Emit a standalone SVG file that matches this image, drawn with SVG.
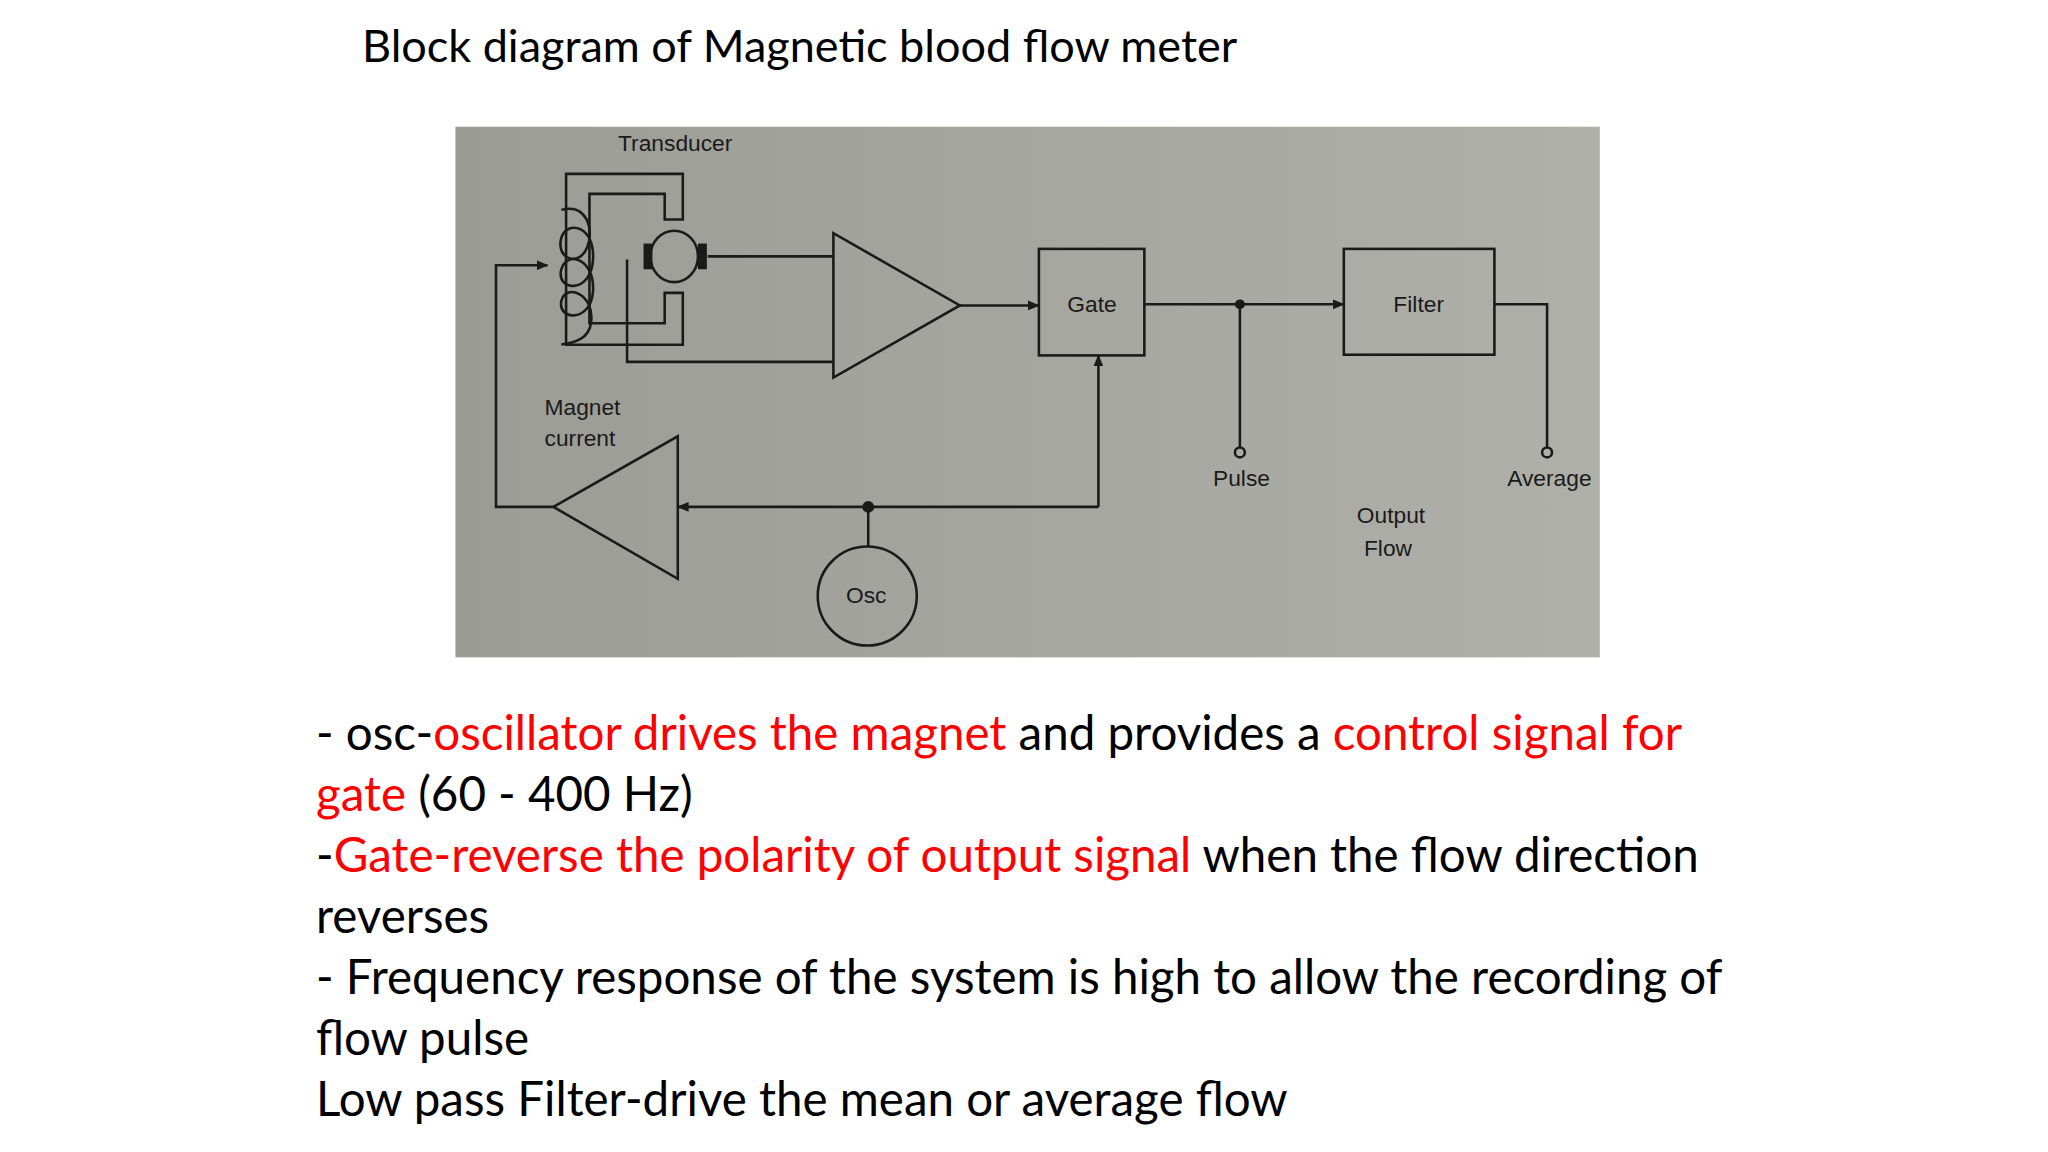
<svg xmlns="http://www.w3.org/2000/svg" width="2048" height="1152" viewBox="0 0 2048 1152">
<style>
.ln{stroke:#1a1a1a;stroke-width:2.6;fill:none}
.lb{font-family:"Liberation Sans",Arial,sans-serif;font-size:23px;fill:#1a1a1a}
.body{font-family:Lato,"Liberation Sans",sans-serif;font-size:47.5px;fill:#000}
.r{fill:#ff0000}
</style>
<defs>
<marker id="ah" markerWidth="12" markerHeight="10" refX="11" refY="5" orient="auto" markerUnits="userSpaceOnUse"><path d="M0,0 L12,5 L0,10 Z" fill="#1a1a1a"/></marker>
<linearGradient id="bg" x1="0" x2="1"><stop offset="0" stop-color="#9c9c96"/><stop offset="1" stop-color="#b0b0aa"/></linearGradient>
</defs>
<rect width="2048" height="1152" fill="#fff"/>
<text x="362" y="62" font-family="Lato,'Liberation Sans',sans-serif" font-size="45" fill="#000">Block diagram of Magnetic blood flow meter</text>
<g transform="translate(1,0) scale(0.99)">
<rect x="459" y="128" width="1156" height="536" fill="url(#bg)"/>
<g id="transducer">
<path class="ln" d="M688.7,221.8 V175.6 H570.8 V348.2 H688.7 V295.8 H670.4 V326.5 H594.4 V195.8 H670.4 V221.8 Z"/>
<path class="ln" d="M566,212 C590,205 600,230 592,250 C584,270 560,262 566,240 C572,222 600,228 598,262 C596,298 560,294 566,272 C572,252 600,262 598,294 C596,326 562,324 566,304 C570,286 600,296 596,326 C594,342 580,346 566,348"/>
<ellipse class="ln" cx="680" cy="259" rx="24" ry="26"/>
<rect x="649" y="246" width="9" height="26" fill="#1a1a1a"/>
<rect x="704" y="246" width="9" height="26" fill="#1a1a1a"/>
<text class="lb" x="681" y="153" text-anchor="middle">Transducer</text>
</g>
<g id="amp"><path class="ln" d="M840.8,235.5 L840.8,381.4 L968.5,308.5 Z"/></g>
<g id="gate"><rect class="ln" x="1048.4" y="251.4" width="106.5" height="107.6"/><text class="lb" x="1102" y="315" text-anchor="middle">Gate</text></g>
<g id="filter"><rect class="ln" x="1356.4" y="251.4" width="152.1" height="106.9"/><text class="lb" x="1432" y="315" text-anchor="middle">Filter</text></g>
<g id="osc"><circle class="ln" cx="875" cy="602" r="50"/><text class="lb" x="874" y="609" text-anchor="middle">Osc</text></g>
<g id="amp2"><path class="ln" d="M558,512 L683.6,440.7 L683.6,584.6 Z"/>
<text class="lb" x="549" y="419">Magnet</text><text class="lb" x="549" y="451">current</text></g>
<g id="outputs">
<text class="lb" x="1253" y="491" text-anchor="middle">Pulse</text>
<text class="lb" x="1564" y="491" text-anchor="middle">Average</text>
<text class="lb" x="1404" y="528" text-anchor="middle">Output</text>
<text class="lb" x="1401" y="562" text-anchor="middle">Flow</text>
</g>
<g id="connectors">
<path class="ln" d="M713.8,259 H840.8"/>
<path class="ln" d="M632.4,262 V365.5 H840.8"/>
<path class="ln" d="M968.5,308.5 H1048.4" marker-end="url(#ah)"/>
<path class="ln" d="M1154.9,307.4 H1356.4" marker-end="url(#ah)"/>
<circle cx="1251.4" cy="307.4" r="5" fill="#1a1a1a"/>
<path class="ln" d="M1251.4,307.4 V452"/>
<circle class="ln" cx="1251.4" cy="457" r="5" fill="none"/>
<path class="ln" d="M1508.5,307.4 H1561.7 V452"/>
<circle class="ln" cx="1561.7" cy="457" r="5" fill="none"/>
<path class="ln" d="M1108.5,512 V359" marker-end="url(#ah)"/>
<path class="ln" d="M1108.5,512 H683.6" marker-end="url(#ah)"/>
<circle cx="876" cy="512" r="6" fill="#1a1a1a"/>
<path class="ln" d="M876,512 V552"/>
<path class="ln" d="M558,512 H500 V268 H552" marker-end="url(#ah)"/>
</g>
</g>
<g class="body">
<text x="316" y="750">- osc-<tspan class="r">oscillator drives the magnet</tspan> and provides a <tspan class="r">control signal for</tspan></text>
<text x="316" y="811"><tspan class="r">gate</tspan> (60 - 400 Hz)</text>
<text x="316" y="872">-<tspan class="r">Gate-reverse the polarity of output signal</tspan> when the flow direction</text>
<text x="316" y="933">reverses</text>
<text x="316" y="994">- Frequency response  of the system is high to allow the recording of</text>
<text x="316" y="1055">flow pulse</text>
<text x="316" y="1116">Low pass Filter-drive the mean or average flow</text>
</g>
</svg>
